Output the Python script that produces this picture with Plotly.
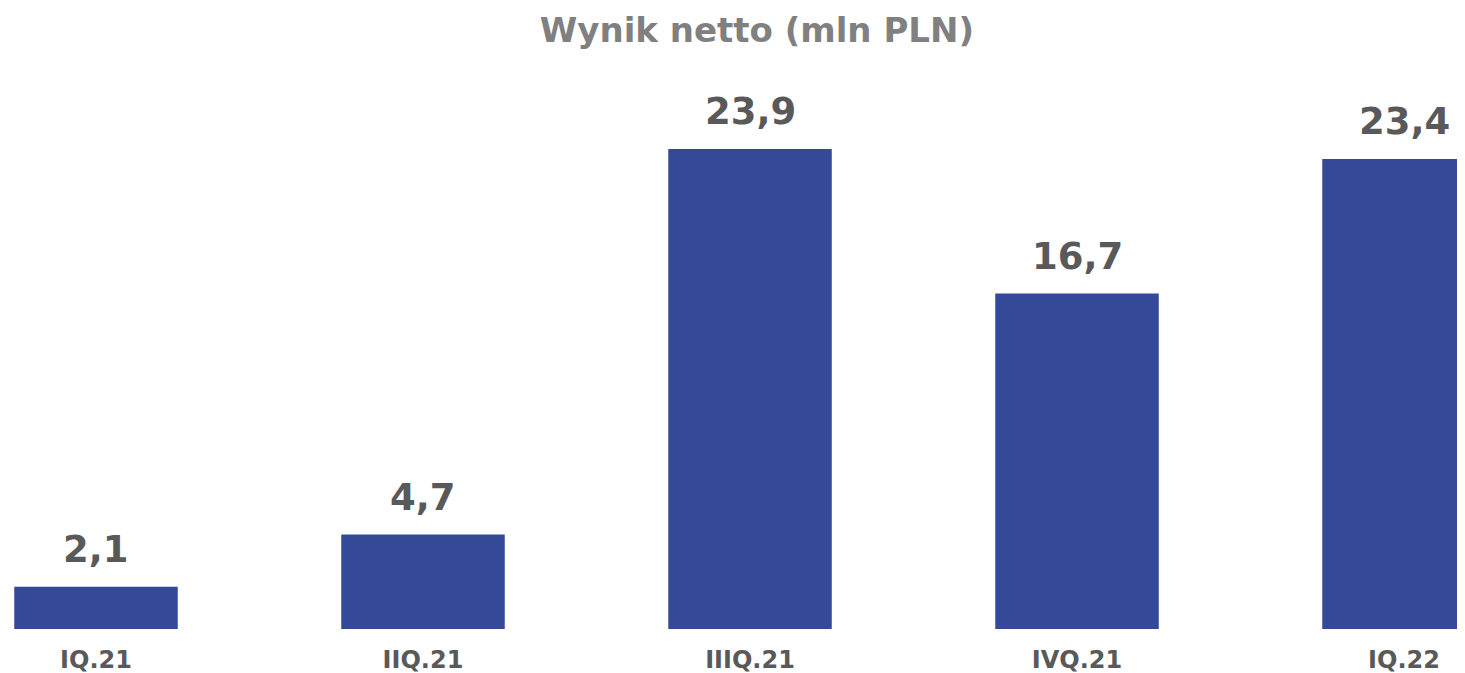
import plotly.graph_objects as go

quarters = ["IQ.21", "IIQ.21", "IIIQ.21", "IVQ.21", "IQ.22"]
net_result = [2.1, 4.7, 23.9, 16.7, 23.4]
value_labels = ["2,1", "4,7", "23,9", "16,7", "23,4"]

BAR_COLOR = "#344A98"
LABEL_COLOR = "#595959"
TITLE_COLOR = "#808080"
FONT = "DejaVu Sans"

fig = go.Figure()

fig.add_trace(go.Bar(
    x=quarters,
    y=net_result,
    marker=dict(color=BAR_COLOR, line=dict(width=0)),
    width=0.5,
    hoverinfo="x+y",
))

# value labels above the bars
for q, v, lbl in zip(quarters, net_result, value_labels):
    fig.add_annotation(
        x=q, y=v, text=f"<b>{lbl}</b>",
        showarrow=False, yanchor="bottom", yshift=14,
        font=dict(family=FONT, size=37, color=LABEL_COLOR),
    )

# page body has an 8px margin, so the figure is a bit smaller than the window
fig.update_layout(
    title=dict(
        text="<b>Wynik netto (mln PLN)</b>",
        x=0.514, xanchor="center", y=0.985, yanchor="top",
        font=dict(family=FONT, size=34, color=TITLE_COLOR),
    ),
    width=1457, height=665,
    paper_bgcolor="white", plot_bgcolor="white",
    showlegend=False,
    margin=dict(t=52, r=0, b=44, l=0),
)

fig.update_xaxes(
    range=[-0.2691, 4.1865],
    showgrid=False, showline=False, zeroline=False,
    ticks="", ticklabelstandoff=14,
    tickfont=dict(family=FONT, size=24, color=LABEL_COLOR),
    tickprefix="<b>", ticksuffix="</b>",
)
fig.update_yaxes(
    range=[0, 28.33],
    visible=False, showgrid=False, zeroline=False,
)

fig.write_html("out.html")
